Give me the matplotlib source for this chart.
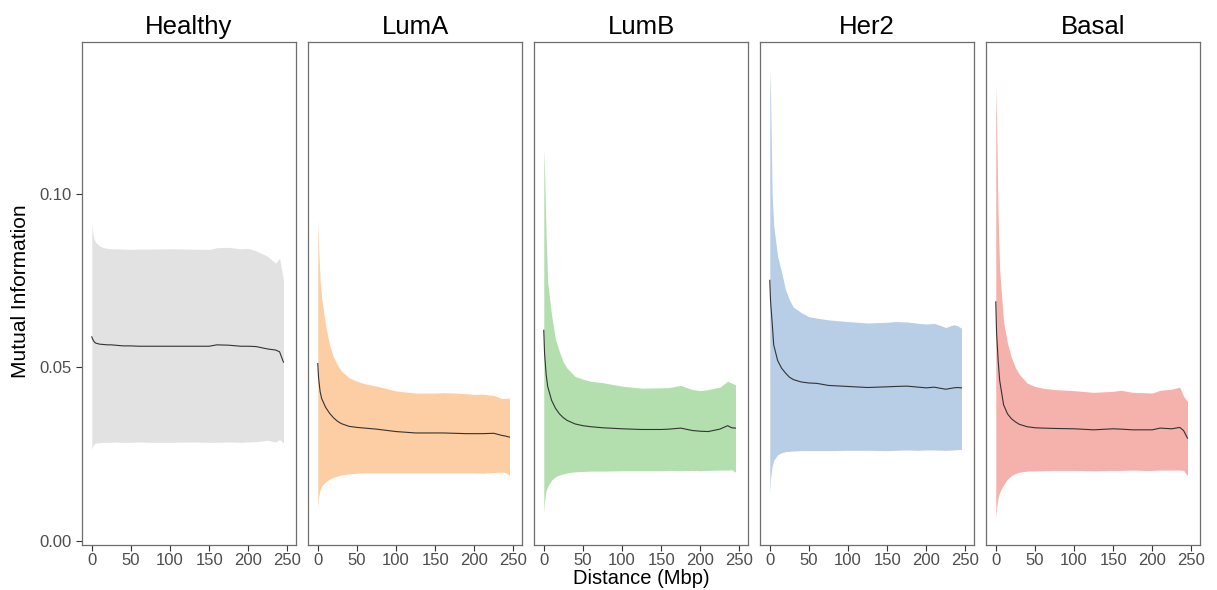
import matplotlib
matplotlib.use("Agg")
import matplotlib.pyplot as plt

plt.rcParams['font.family'] = ['Liberation Sans', 'DejaVu Sans']

# distance grid (Mbp) shared by all panels
dist = [0, 1, 3, 5, 10, 15, 20, 25, 30, 40, 50, 60, 75, 100, 125, 150,
        160, 175, 190, 200, 210, 225, 235, 240, 245]

groups = ["Healthy", "LumA", "LumB", "Her2", "Basal"]
fills = ["#e2e2e2", "#fdcda4", "#b3dfaf", "#b8cde6", "#f5b1ac"]

healthy_hi = [0.0915, 0.0890, 0.0870, 0.0860, 0.0850, 0.0845, 0.0843, 0.0842, 0.0842, 0.0841,
              0.0840, 0.0841, 0.0841, 0.0842, 0.0841, 0.0840, 0.0845, 0.0846, 0.0842, 0.0843,
              0.0836, 0.0820, 0.0800, 0.0815, 0.0750]
healthy_lo = [0.0262, 0.0272, 0.0279, 0.0282, 0.0283, 0.0284, 0.0284, 0.0284, 0.0285, 0.0284,
              0.0284, 0.0285, 0.0284, 0.0284, 0.0285, 0.0284, 0.0284, 0.0285, 0.0284, 0.0285,
              0.0286, 0.0290, 0.0285, 0.0292, 0.0282]
healthy_med = [0.0588, 0.0582, 0.0574, 0.0570, 0.0567, 0.0566, 0.0565, 0.0565, 0.0564, 0.0562,
               0.0562, 0.0561, 0.0561, 0.0561, 0.0561, 0.0561, 0.0565, 0.0564, 0.0561, 0.0561,
               0.0560, 0.0553, 0.0550, 0.0545, 0.0515]

luma_hi = [0.0927, 0.0850, 0.0750, 0.0700, 0.0620, 0.0565, 0.0530, 0.0508, 0.0490, 0.0470,
           0.0460, 0.0453, 0.0446, 0.0432, 0.0426, 0.0426, 0.0427, 0.0426, 0.0424, 0.0422,
           0.0423, 0.0419, 0.0410, 0.0411, 0.0411]
luma_lo = [0.0095, 0.0125, 0.0148, 0.0158, 0.0170, 0.0178, 0.0183, 0.0187, 0.0190, 0.0193,
           0.0195, 0.0196, 0.0196, 0.0196, 0.0196, 0.0196, 0.0196, 0.0196, 0.0196, 0.0196,
           0.0195, 0.0197, 0.0198, 0.0197, 0.0188]
luma_med = [0.0511, 0.0470, 0.0430, 0.0410, 0.0385, 0.0368, 0.0355, 0.0345, 0.0338, 0.0330,
            0.0327, 0.0325, 0.0322, 0.0315, 0.0311, 0.0311, 0.0311, 0.0310, 0.0309, 0.0309,
            0.0309, 0.0310, 0.0304, 0.0302, 0.0299]

lumb_hi = [0.1130, 0.1068, 0.0880, 0.0745, 0.0650, 0.0580, 0.0545, 0.0515, 0.0497, 0.0474,
           0.0466, 0.0460, 0.0456, 0.0446, 0.0440, 0.0441, 0.0442, 0.0448, 0.0436, 0.0433,
           0.0436, 0.0443, 0.0460, 0.0455, 0.0450]
lumb_lo = [0.0080, 0.0115, 0.0145, 0.0157, 0.0175, 0.0185, 0.0190, 0.0193, 0.0196, 0.0199,
           0.0200, 0.0201, 0.0201, 0.0202, 0.0202, 0.0202, 0.0203, 0.0202, 0.0203, 0.0202,
           0.0203, 0.0204, 0.0204, 0.0205, 0.0198]
lumb_med = [0.0607, 0.0540, 0.0480, 0.0445, 0.0405, 0.0382, 0.0366, 0.0355, 0.0347, 0.0337,
            0.0332, 0.0329, 0.0326, 0.0323, 0.0321, 0.0321, 0.0322, 0.0325, 0.0318, 0.0316,
            0.0315, 0.0322, 0.0332, 0.0326, 0.0325]

her2_hi = [0.1360, 0.1285, 0.1000, 0.0910, 0.0820, 0.0775, 0.0725, 0.0695, 0.0674, 0.0658,
           0.0646, 0.0642, 0.0637, 0.0632, 0.0628, 0.0630, 0.0632, 0.0631, 0.0627, 0.0625,
           0.0627, 0.0615, 0.0623, 0.0620, 0.0613]
her2_lo = [0.0140, 0.0180, 0.0215, 0.0232, 0.0248, 0.0254, 0.0257, 0.0258, 0.0259, 0.0260,
           0.0260, 0.0260, 0.0260, 0.0261, 0.0261, 0.0260, 0.0261, 0.0262, 0.0261, 0.0262,
           0.0262, 0.0261, 0.0262, 0.0263, 0.0263]
her2_med = [0.0751, 0.0690, 0.0630, 0.0565, 0.0520, 0.0498, 0.0484, 0.0472, 0.0465, 0.0458,
            0.0455, 0.0454, 0.0448, 0.0445, 0.0442, 0.0444, 0.0445, 0.0446, 0.0443, 0.0441,
            0.0443, 0.0437, 0.0441, 0.0442, 0.0441]

basal_hi = [0.1315, 0.1223, 0.0930, 0.0780, 0.0630, 0.0570, 0.0528, 0.0500, 0.0480, 0.0455,
            0.0445, 0.0440, 0.0436, 0.0433, 0.0428, 0.0431, 0.0434, 0.0428, 0.0427, 0.0426,
            0.0434, 0.0437, 0.0443, 0.0417, 0.0402]
basal_lo = [0.0065, 0.0095, 0.0125, 0.0140, 0.0162, 0.0178, 0.0188, 0.0194, 0.0198, 0.0201,
            0.0202, 0.0202, 0.0203, 0.0203, 0.0202, 0.0203, 0.0203, 0.0204, 0.0203, 0.0203,
            0.0204, 0.0204, 0.0204, 0.0203, 0.0188]
basal_med = [0.0689, 0.0600, 0.0520, 0.0462, 0.0392, 0.0366, 0.0352, 0.0343, 0.0336, 0.0329,
             0.0326, 0.0325, 0.0324, 0.0323, 0.0320, 0.0323, 0.0322, 0.0320, 0.0320, 0.0320,
             0.0325, 0.0323, 0.0327, 0.0318, 0.0296]

his = [healthy_hi, luma_hi, lumb_hi, her2_hi, basal_hi]
los = [healthy_lo, luma_lo, lumb_lo, her2_lo, basal_lo]
meds = [healthy_med, luma_med, lumb_med, her2_med, basal_med]

W, H = 1217, 590
fig = plt.figure(figsize=(W / 100, H / 100), dpi=100)

top, bottom = 42, 545
for i, name in enumerate(groups):
    left = 82 + i * 226
    ax = fig.add_axes([left / W, 1 - bottom / H, 214 / W, (bottom - top) / H])
    ax.fill_between(dist, los[i], his[i], color=fills[i], lw=0)
    ax.plot(dist, meds[i], color="#333333", lw=0.8)
    ax.set_xlim(-12.5, 261)
    ax.set_ylim(-0.0012, 0.1438)
    ax.set_xticks([0, 50, 100, 150, 200, 250])
    ax.set_yticks([0.0, 0.05, 0.10])
    ax.set_yticklabels(["0.00", "0.05", "0.10"])
    ax.tick_params(colors="#333333", labelcolor="#4d4d4d", labelsize=12, length=4, width=0.8)
    ax.tick_params(axis="x", pad=1.5)
    if i > 0:
        ax.tick_params(axis="y", left=False, labelleft=False)
    for s in ax.spines.values():
        s.set_color("#6e6e6e")
        s.set_linewidth(0.9)
    ax.set_title(name, fontsize=18.5, pad=6)

fig.text(641 / W, 1 - 579 / H, "Distance (Mbp)", ha="center", va="center", fontsize=14.5)
fig.text(21 / W, 1 - 291 / H, "Mutual Information", ha="center", va="center",
         rotation=90, fontsize=15)

fig.savefig("out.png", dpi=100)
